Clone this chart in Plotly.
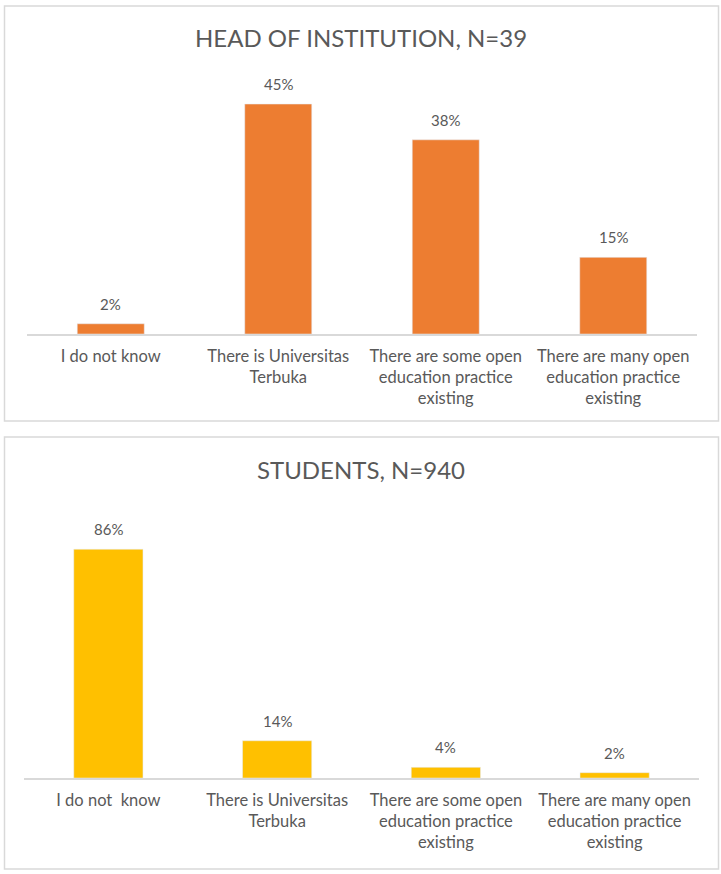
import plotly.graph_objects as go

W, H = 721, 874

# Survey answers shared by both panels
head_categories = [
    "I do not know",
    "There is Universitas<br>Terbuka",
    "There are some open<br>education practice<br>existing",
    "There are many open<br>education practice<br>existing",
]
student_categories = [
    "I do not  know",
    "There is Universitas<br>Terbuka",
    "There are some open<br>education practice<br>existing",
    "There are many open<br>education practice<br>existing",
]
head_values = [0.02, 0.45, 0.38, 0.15]
student_values = [0.86, 0.14, 0.04, 0.02]
head_title = "HEAD OF INSTITUTION, N=39"
student_title = "STUDENTS, N=940"

FONT = "Lato, 'Open Sans', sans-serif"
TEXT = "#595959"
GRID = "#d9d9d9"
ORANGE = "#ED7D31"
GOLD = "#FFC000"


def px_x(x):
    return x / W


def px_y(y):
    return 1 - y / H


fig = go.Figure()
xs = list(range(4))

fig.add_trace(go.Bar(x=xs, y=head_values, marker_color=ORANGE, width=0.4,
                     xaxis="x", yaxis="y", hoverinfo="skip"))
fig.add_trace(go.Bar(x=xs, y=student_values, marker_color=GOLD, width=0.41,
                     xaxis="x2", yaxis="y2", hoverinfo="skip"))

axis_common = dict(
    showgrid=False, zeroline=False, showline=True, linecolor=GRID, linewidth=1.5,
    ticks="", tickfont=dict(family=FONT, size=16.5, color=TEXT), ticklabelstandoff=6,
    range=[-0.5, 3.5], tickmode="array", tickvals=xs, fixedrange=True,
)

fig.update_layout(
    width=W, height=H,
    margin=dict(l=0, r=0, t=0, b=0),
    paper_bgcolor="white", plot_bgcolor="white",
    showlegend=False,
    font=dict(family=FONT, color=TEXT),
    xaxis=dict(domain=[px_x(27), px_x(697)], anchor="y", ticktext=head_categories,
               **axis_common),
    yaxis=dict(domain=[px_y(334), px_y(78.5)], anchor="x", range=[0, 0.5],
               visible=False, fixedrange=True),
    xaxis2=dict(domain=[px_x(24), px_x(699)], anchor="y2", ticktext=student_categories,
                **axis_common),
    yaxis2=dict(domain=[px_y(778), px_y(512)], anchor="x2", range=[0, 1.0],
                visible=False, fixedrange=True),
)

# Panel frames
for top, bottom in [(6, 421), (437, 869)]:
    fig.add_shape(type="rect", xref="paper", yref="paper",
                  x0=px_x(4.5), x1=px_x(718.5), y0=px_y(bottom), y1=px_y(top),
                  line=dict(color=GRID, width=1.5), fillcolor="rgba(0,0,0,0)", layer="below")

# Panel titles
for title, yc in [(head_title, 38), (student_title, 469)]:
    fig.add_annotation(text=title, xref="paper", yref="paper", x=0.5, y=px_y(yc),
                       xanchor="center", yanchor="middle", showarrow=False,
                       font=dict(family=FONT, size=24, color=TEXT))

# Value labels above each bar
for vals, xa, ya in [(head_values, "x", "y"), (student_values, "x2", "y2")]:
    for i, v in enumerate(vals):
        fig.add_annotation(text=f"{round(v * 100)}%", x=i, y=v, xref=xa, yref=ya,
                           xanchor="center", yanchor="bottom", yshift=9, showarrow=False,
                           font=dict(family=FONT, size=15, color=TEXT))

fig.write_html("out.html", config={"displayModeBar": False})
